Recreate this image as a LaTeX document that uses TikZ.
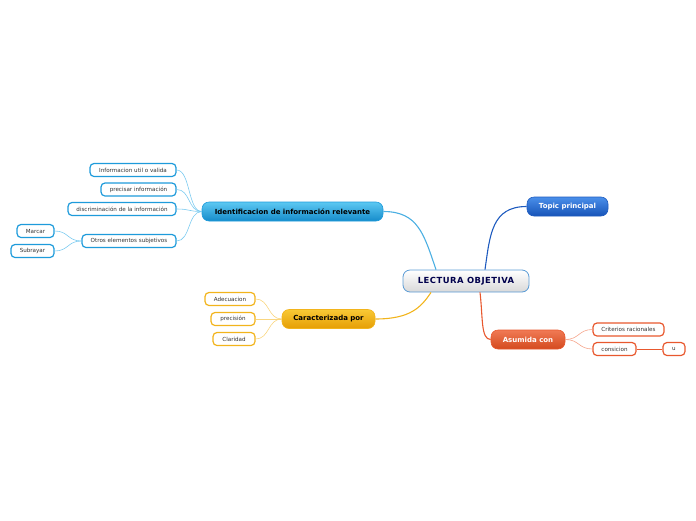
\documentclass[tikz,border=0pt]{standalone}
\usepackage{fontspec}
\setmainfont{DejaVu Sans}
\usetikzlibrary{calc}
\definecolor{bleaf}{HTML}{1E9BDB}
\definecolor{bline}{HTML}{7CCBF0}
\definecolor{oleaf}{HTML}{F2B41C}
\definecolor{oline}{HTML}{F9D680}
\definecolor{rleaf}{HTML}{E8582E}
\definecolor{rline}{HTML}{F5A38A}
\definecolor{cborder}{HTML}{5A9BD5}
\definecolor{ttop}{HTML}{4A8FEA}
\definecolor{tbot}{HTML}{1754B8}
\definecolor{tborder}{HTML}{1E5BBF}
\definecolor{idtop}{HTML}{5CC8F2}
\definecolor{idbot}{HTML}{168CCB}
\definecolor{catop}{HTML}{F8C935}
\definecolor{cabot}{HTML}{E59E05}
\definecolor{astop}{HTML}{F07A55}
\definecolor{asbot}{HTML}{D44A1E}
\tikzset{
  leaf/.style={draw, line width=1.2pt, rounded corners=4pt, fill=white, inner sep=0pt, minimum height=13pt, font=\fontsize{5.6}{6.5}\selectfont, text=black!80},
  bleafbox/.style={leaf, draw=bleaf},
  oleafbox/.style={leaf, draw=oleaf},
  rleafbox/.style={leaf, draw=rleaf},
  mainbox/.style={rounded corners=7pt, inner sep=0pt, minimum height=19pt, font=\bfseries\fontsize{7}{8}\selectfont},
  thin/.style={line width=0.6pt},
  thick/.style={line width=1.1pt}
}
\begin{document}
\begin{tikzpicture}[x=1pt,y=-1pt]
\useasboundingbox (0,0) rectangle (696,520);
% main nodes
\node[mainbox, draw=cborder, line width=0.8pt, top color=white, bottom color=black!15, minimum width=126pt, minimum height=22pt, text=blue!30!black, font=\bfseries\fontsize{8.4}{10}\selectfont\addfontfeature{LetterSpace=6}] (c) at (466,281) {LECTURA OBJETIVA};
\node[mainbox, draw=tborder, line width=0.6pt, top color=ttop, bottom color=tbot, minimum width=81pt, text=white] (t) at (567.5,206.5) {Topic principal};
\node[mainbox, draw=bleaf, line width=0.6pt, top color=idtop, bottom color=idbot, minimum width=181pt, text=black] (id) at (292.5,211.5) {Identificacion de información relevante};
\node[mainbox, draw=oleaf, line width=0.6pt, top color=catop, bottom color=cabot, minimum width=93pt, text=black] (ca) at (328.5,319) {Caracterizada por};
\node[mainbox, draw=rleaf, line width=0.6pt, top color=astop, bottom color=asbot, minimum width=74pt, text=white] (as) at (528,339.5) {Asumida con};
% blue leaves
\node[bleafbox, minimum width=86pt] (l1) at (133,170) {Informacion util o valida};
\node[bleafbox, minimum width=75pt] (l2) at (138.5,189.5) {precisar información};
\node[bleafbox, minimum width=108pt] (l3) at (122,209) {discriminación de la información};
\node[bleafbox, minimum width=94pt] (l4) at (129,241) {Otros elementos subjetivos};
\node[bleafbox, minimum width=37pt] (l5) at (35.5,231) {Marcar};
\node[bleafbox, minimum width=43pt] (l6) at (32.5,251) {Subrayar};
% orange leaves
\node[oleafbox, minimum width=50pt] (o1) at (230,299) {Adecuacion};
\node[oleafbox, minimum width=44pt] (o2) at (233,319) {precisión};
\node[oleafbox, minimum width=42pt] (o3) at (234,339) {Claridad};
% red leaves
\node[rleafbox, minimum width=71pt] (r1) at (628.5,329.5) {Criterios racionales};
\node[rleafbox, minimum width=43pt] (r2) at (614.5,349) {consicion};
\node[rleafbox, minimum width=22pt] (r3) at (674,349) {u};
% main connectors
\coordinate (c1) at ($(c.north)+(-30,0)$);
\coordinate (c2) at ($(c.north)+(19,0)$);
\coordinate (c3) at ($(c.south)+(-35,0)$);
\coordinate (c4) at ($(c.south)+(14,0)$);
\draw[thick, bleaf!80] (id.east) .. controls +(35,0) and +(-12,-35) .. (c1);
\draw[thick, tborder] (t.west) .. controls +(-35,0) and +(5,-35) .. (c2);
\draw[thick, oleaf] (ca.east) .. controls +(35,0) and +(-10,15) .. (c3);
\draw[thick, rleaf] (c4) .. controls +(3,25) and +(-10,0) .. (as.west);
% leaf connectors
\foreach \n in {l1,l2,l3,l4}{\draw[thin, bline] (id.west) .. controls +(-14,0) and +(14,0) .. (\n.east);}
\foreach \n in {l5,l6}{\draw[thin, bline] (l4.west) .. controls +(-14,0) and +(14,0) .. (\n.east);}
\foreach \n in {o1,o2,o3}{\draw[thin, oline] (ca.west) .. controls +(-14,0) and +(14,0) .. (\n.east);}
\foreach \n in {r1,r2}{\draw[thin, rline] (as.east) .. controls +(14,0) and +(-14,0) .. (\n.west);}
\draw[thin, rleaf] (r2.east) -- (r3.west);
\end{tikzpicture}
\end{document}
